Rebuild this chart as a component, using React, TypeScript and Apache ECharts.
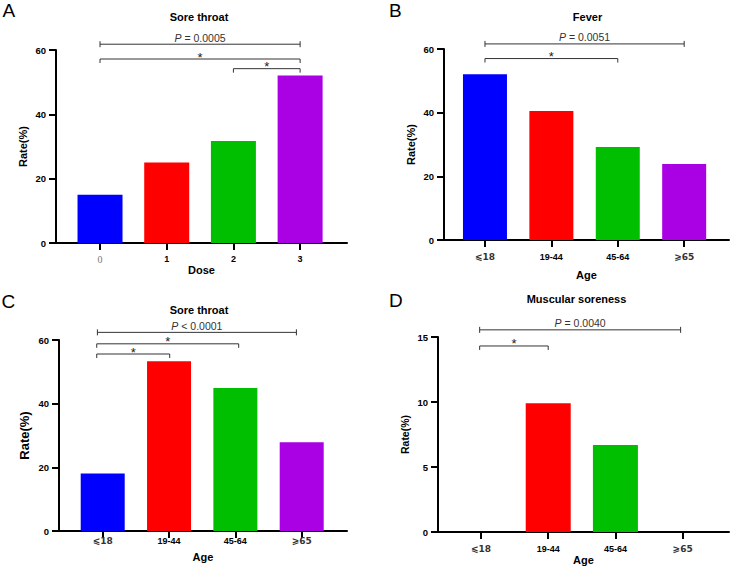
import React, { useEffect, useRef } from "react";
import * as echarts from "echarts";

// ---------- data ----------
const doseCategories = ["0", "1", "2", "3"];
const ageCategories = ["⩽18", "19-44", "45-64", "⩾65"];
const barColors = ["#0000FF", "#FF0000", "#00BF00", "#AA00E4"];

const soreThroatByDose = [15, 25, 31.7, 52.1];
const feverByAge = [52.1, 40.5, 29.2, 23.9];
const soreThroatByAge = [18.1, 53.3, 44.9, 27.9];
const muscularSorenessByAge = [0, 9.9, 6.7, 0];

const panelTitles = ["Sore throat", "Fever", "Sore throat", "Muscular soreness"];
const panelLetters = ["A", "B", "C", "D"];
const xAxisNames = ["Dose", "Age", "Age", "Age"];

// significance brackets: from / to category position, height in axis units, label
const bracketsA = [
  { from: 0, to: 3, y: 61.8, label: "P = 0.0005", kind: "p" },
  { from: 0, to: 3, y: 57.2, label: "*", kind: "star" },
  { from: 2, to: 3, y: 54.2, label: "*", kind: "star" },
];
const bracketsB = [
  { from: 0, to: 3, y: 61.6, label: "P = 0.0051", kind: "p" },
  { from: 0, to: 2, y: 57.0, label: "*", kind: "star" },
];
const bracketsC = [
  { from: -0.08, to: 2.92, y: 62.4, label: "P < 0.0001", kind: "p" },
  { from: -0.09, to: 2.05, y: 58.8, label: "*", kind: "star" },
  { from: -0.09, to: 1.01, y: 55.6, label: "*", kind: "star" },
];
const bracketsD = [
  { from: -0.02, to: 2.97, y: 15.55, label: "P = 0.0040", kind: "p" },
  { from: -0.02, to: 1.0, y: 14.31, label: "*", kind: "star" },
];

// ---------- layout ----------
const FONT = "'Liberation Sans', Arial, 'DejaVu Sans', sans-serif";

const panels = [
  {
    values: soreThroatByDose, categories: doseCategories, brackets: bracketsA,
    grid: { left: 56, top: 50, width: 291, height: 193 },
    xMin: -0.66, xMax: 3.703, yMax: 60, yInterval: 20, barWidth: 45,
    labelMargin: 11, xNameGap: 19, yNameSize: 11,
    title: [199, 16.7], letter: [2.5, 10],
  },
  {
    values: feverByAge, categories: ageCategories, brackets: bracketsB,
    grid: { left: 444, top: 49, width: 285, height: 191 },
    xMin: -0.617, xMax: 3.675, yMax: 60, yInterval: 20, barWidth: 44,
    labelMargin: 12, xNameGap: 29, yNameSize: 11,
    title: [587.5, 16.7], letter: [389, 10],
  },
  {
    values: soreThroatByAge, categories: ageCategories, brackets: bracketsC,
    grid: { left: 59, top: 340, width: 288, height: 191 },
    xMin: -0.659, xMax: 3.683, yMax: 60, yInterval: 20, barWidth: 44,
    labelMargin: 5, xNameGap: 20, yNameSize: 13,
    title: [199, 309.7], letter: [1.5, 301.5],
  },
  {
    values: muscularSorenessByAge, categories: ageCategories, brackets: bracketsD,
    grid: { left: 438, top: 337, width: 291, height: 195 },
    xMin: -0.64, xMax: 3.69, yMax: 15, yInterval: 5, barWidth: 45,
    labelMargin: 12, xNameGap: 22, yNameSize: 10.5,
    title: [576.5, 299], letter: [389, 300.5],
  },
];

const TICK_COLOR = "#000";

function buildOption() {
  const grids: any[] = [];
  const xAxes: any[] = [];
  const yAxes: any[] = [];
  const series: any[] = [];
  const graphics: any[] = [];

  panels.forEach((p) => grids.push({ ...p.grid, containLabel: false }));

  panels.forEach((p, k) => {
    const ticks = p.categories.map((_, i) => i);
    xAxes.push({
      type: "value",
      gridIndex: k,
      min: p.xMin,
      max: p.xMax,
      name: xAxisNames[k],
      nameLocation: "middle",
      nameGap: p.xNameGap,
      nameTextStyle: { fontWeight: "bold", fontSize: 11, color: "#000", fontFamily: FONT },
      splitLine: { show: false },
      axisLine: { show: true, onZero: false, lineStyle: { color: "#000", width: 2 } },
      axisTick: { show: true, customValues: ticks, length: 7, lineStyle: { color: TICK_COLOR, width: 2 } },
      axisLabel: {
        customValues: ticks,
        margin: p.labelMargin,
        fontSize: 9,
        fontWeight: "bold",
        color: "#000",
        fontFamily: FONT,
        formatter: (v: number) => {
          const lab = p.categories[Math.round(v)] ?? "";
          if (k === 0 && Math.round(v) === 0) return "{s|" + lab + "}";
          if (lab.startsWith("⩽") || lab.startsWith("⩾")) return "{a|" + lab + "}";
          return lab;
        },
        rich: {
          s: { fontFamily: "'Liberation Serif', 'DejaVu Serif', serif", fontWeight: "normal", color: "#777", fontSize: 10 },
          a: { fontFamily: "'DejaVu Sans', " + FONT, fontWeight: "bold", color: "#333", fontSize: 9 },
        },
      },
    });
    yAxes.push({
      type: "value",
      gridIndex: k,
      min: 0,
      max: p.yMax,
      interval: p.yInterval,
      name: "Rate(%)",
      nameLocation: "middle",
      nameGap: 28,
      nameTextStyle: { fontWeight: "bold", fontSize: p.yNameSize, color: "#000", fontFamily: FONT },
      splitLine: { show: false },
      axisLine: { show: true, onZero: false, lineStyle: { color: "#000", width: 2 } },
      axisTick: { show: true, length: 7, lineStyle: { color: TICK_COLOR, width: 2 } },
      axisLabel: { margin: 10, fontSize: 9.5, fontWeight: "bold", color: "#000", fontFamily: FONT },
    });
    series.push({
      type: "bar",
      xAxisIndex: k,
      yAxisIndex: k,
      barWidth: p.barWidth,
      data: p.values.map((v, i) => ({
        value: [i, v],
        itemStyle: { color: barColors[i] },
      })),
    });
    const br = p.brackets;
    series.push({
      type: "custom",
      xAxisIndex: k,
      yAxisIndex: k,
      clip: false,
      silent: true,
      encode: { x: [0, 1], y: 2 },
      data: br.map((b) => [b.from, b.to, b.y]),
      renderItem: (params: any, api: any) => {
        const b = br[params.dataIndex];
        const p0 = api.coord([api.value(0), api.value(2)]);
        const p1 = api.coord([api.value(1), api.value(2)]);
        const isP = b.kind === "p";
        const up = isP ? -3 : 0;
        const down = isP ? 3 : 4;
        const ls = { stroke: "#333", lineWidth: 1 };
        const mid = (p0[0] + p1[0]) / 2;
        const textEl = isP
          ? {
              type: "text",
              x: mid,
              y: p0[1] - 6.5,
              style: {
                text: "{i|P}" + b.label.slice(1),
                fontSize: 10.5,
                fontFamily: FONT,
                fill: "#333",
                align: "center",
                verticalAlign: "middle",
                rich: { i: { fontStyle: "italic", fontSize: 10.5, fontFamily: FONT, fill: "#333" } },
              },
            }
          : {
              type: "text",
              x: mid,
              y: p0[1] - 2,
              style: {
                text: "*",
                fontSize: 13,
                fontFamily: FONT,
                fill: "#222",
                align: "center",
                verticalAlign: "middle",
              },
            };
        return {
          type: "group",
          children: [
            { type: "line", shape: { x1: p0[0], y1: p0[1], x2: p1[0], y2: p1[1] }, style: ls },
            { type: "line", shape: { x1: p0[0], y1: p0[1] + up, x2: p0[0], y2: p0[1] + down }, style: ls },
            { type: "line", shape: { x1: p1[0], y1: p1[1] + up, x2: p1[0], y2: p1[1] + down }, style: ls },
            textEl,
          ],
        };
      },
    });

    graphics.push({
      type: "text",
      x: p.title[0],
      y: p.title[1],
      style: {
        text: panelTitles[k],
        fontSize: 11,
        fontWeight: "bold",
        fontFamily: FONT,
        fill: "#000",
        align: "center",
        verticalAlign: "middle",
      },
    });
    graphics.push({
      type: "text",
      x: p.letter[0],
      y: p.letter[1],
      style: {
        text: panelLetters[k],
        fontSize: 19,
        fontFamily: FONT,
        fill: "#000",
        align: "left",
        verticalAlign: "middle",
      },
    });
  });

  return {
    animation: false,
    backgroundColor: "#fff",
    textStyle: { fontFamily: FONT },
    grid: grids,
    xAxis: xAxes,
    yAxis: yAxes,
    series,
    graphic: graphics,
  };
}

export default function App() {
  const ref = useRef<HTMLDivElement>(null);
  useEffect(() => {
    document.body.style.margin = "0";
    if (!ref.current) return;
    const chart = echarts.init(ref.current, null, { renderer: "svg" });
    chart.setOption(buildOption() as any);
    return () => chart.dispose();
  }, []);
  return (
    <div
      ref={ref}
      style={{ position: "absolute", left: 0, top: 0, width: 733, height: 567 }}
    />
  );
}
